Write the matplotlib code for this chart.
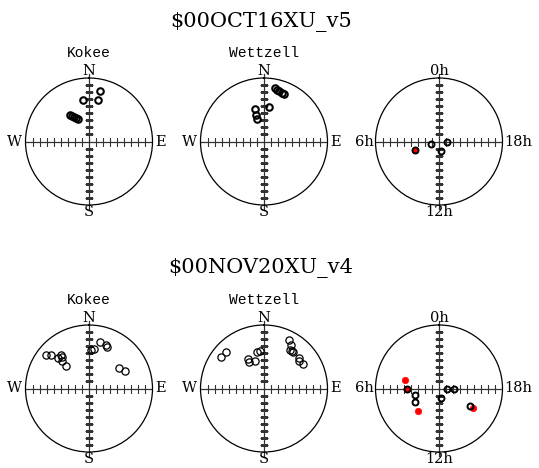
import numpy as np
import matplotlib
matplotlib.use("Agg")
import matplotlib.pyplot as plt

# ---- session 1: $00OCT16XU_v5 ----
s1_kokee_az = [11.9, 12.3, 351.4, 324.5, 326.5, 328.7, 331.2, 334.1]
s1_kokee_el = [16.5, 30.0, 30.0, 43.5, 46.2, 49.0, 51.6, 54.2]
s1_wett_az = [11.7, 14.5, 16.9, 19.9, 22.6, 8.7, 345.1, 342.2, 343.6]
s1_wett_el = [13.0, 14.2, 15.2, 16.4, 17.2, 40.2, 42.0, 51.2, 56.4]
s1_ha_open = [7.09, 18.0, 12.8, 7.21]
s1_rad_open = [11.9, 11.3, 13.6, 36.4]
s1_ha_red = [7.21]
s1_rad_red = [36.4]

# ---- session 2: $00NOV20XU_v4 ----
s2_kokee_az = [307.7, 311.5, 314.4, 319.6, 319.6, 315.0, 314.6, 2.5, 7.3,
               12.9, 21.6, 23.1, 56.2, 63.9]
s2_kokee_el = [13.4, 17.9, 28.4, 27.8, 31.5, 35.7, 44.1, 35.9, 34.1,
               22.0, 23.2, 26.1, 38.1, 33.0]
s2_wett_az = [306.1, 313.5, 331.9, 329.8, 342.6, 349.6, 354.5, 27.2, 31.9,
              33.9, 36.9, 38.9, 48.8, 51.7, 57.5]
s2_wett_el = [14.8, 15.4, 43.0, 46.9, 49.0, 37.8, 36.0, 12.7, 17.8,
              24.1, 23.4, 24.0, 24.9, 27.6, 25.2]
s2_ha_open = [6.12, 7.03, 7.95, 12.78, 17.84, 17.91, 16.07]
s2_rad_open = [45.0, 35.4, 39.7, 14.0, 11.4, 20.9, 49.9]
s2_ha_red = [5.05, 6.12, 9.09, 15.99]
s2_rad_red = [50.3, 45.0, 43.2, 56.4]

session_titles = ["\\$00OCT16XU_v5", "\\$00NOV20XU_v4"]
station_names = ["Kokee", "Wettzell"]
compass = ["N", "E", "S", "W"]          # top, right, bottom, left
hour_labels = ["0h", "18h", "12h", "6h"]  # top, right, bottom, left

W, H = 539, 468
fig = plt.figure(figsize=(W / 100, H / 100), dpi=100)
fig.patch.set_facecolor("white")

R = 63.5
col_x = [89, 264, 439]
row_y = [141.5, 388.5]
serif = "DejaVu Serif"
mono = "Liberation Mono"


def make_ax(cx, cy, clockwise):
    ax = fig.add_axes([(cx - R) / W, (H - cy - R) / H, 2 * R / W, 2 * R / H],
                      projection="polar")
    ax.set_theta_zero_location("N")
    ax.set_theta_direction(-1 if clockwise else 1)
    ax.set_rlim(0, 90)
    ax.grid(False)
    ax.set_xticks([])
    ax.set_yticks([])
    ax.spines["polar"].set_linewidth(0.9)
    ax.spines["polar"].set_color("black")
    ax.set_facecolor("none")
    lc = "#333333"
    # cross through the centre
    ax.plot([0, 0], [0, 95], color=lc, lw=0.9, clip_on=False)
    ax.plot([np.pi, np.pi], [0, 95], color=lc, lw=0.9, clip_on=False)
    ax.plot([np.pi / 2, np.pi / 2], [0, 90], color=lc, lw=0.9)
    ax.plot([3 * np.pi / 2, 3 * np.pi / 2], [0, 90], color=lc, lw=0.9)
    ticks = np.arange(10, 90, 10)
    for th in (0, np.pi):
        ax.plot(np.full_like(ticks, th, dtype=float), ticks, ls="none",
                marker="_", ms=6, mew=0.8, color=lc)
    for th in (np.pi / 2, 3 * np.pi / 2):
        ax.plot(np.full_like(ticks, th, dtype=float), ticks, ls="none",
                marker="|", ms=6, mew=0.8, color=lc)
    return ax


def label_ring(ax, labels):
    top, right, bottom, left = labels
    kw = dict(transform=ax.transAxes, family=serif, fontsize=10.5,
              color="black", ha="center", va="center")
    off = 0.055
    ax.text(0.5, 1 + off, top, **kw)
    ax.text(0.5, -off, bottom, **kw)
    if len(left) > 1:
        ax.text(-0.01, 0.5, left, **dict(kw, ha="right"))
        ax.text(1.01, 0.5, right, **dict(kw, ha="left"))
    else:
        ax.text(-0.085, 0.5, left, **kw)
        ax.text(1.065, 0.5, right, **kw)


sessions = [
    (s1_kokee_az, s1_kokee_el, s1_wett_az, s1_wett_el,
     s1_ha_open, s1_rad_open, s1_ha_red, s1_rad_red, 1.5, 4.7),
    (s2_kokee_az, s2_kokee_el, s2_wett_az, s2_wett_el,
     s2_ha_open, s2_rad_open, s2_ha_red, s2_rad_red, 0.9, 5.2),
]

for row, sess in enumerate(sessions):
    (k_az, k_el, w_az, w_el, h_open, r_open, h_red, r_red, mew, ms) = sess
    cy = row_y[row]
    fig.text(261 / W, 1 - (cy - 120) / H, session_titles[row], family=serif,
             fontsize=15, ha="center", va="center")
    for i, (az, el) in enumerate([(k_az, k_el), (w_az, w_el)]):
        ax = make_ax(col_x[i], cy, True)
        label_ring(ax, compass)
        ax.text(0.5, 1.195, station_names[i], transform=ax.transAxes,
                family=mono, fontsize=10.5, ha="center", va="center")
        ax.plot(np.radians(az), 90 - np.asarray(el), ls="none", marker="o",
                ms=ms, mfc="none", mec="black", mew=mew)
    ax = make_ax(col_x[2], cy, False)
    label_ring(ax, hour_labels)
    ax.plot(np.radians(np.asarray(h_red) * 15), r_red, ls="none", marker="o",
            ms=4.6, mfc="red", mec="red", mew=0.5)
    ax.plot(np.radians(np.asarray(h_open) * 15), r_open, ls="none",
            marker="o", ms=4.3, mfc="none", mec="black", mew=1.4)

fig.savefig("out.png", dpi=100, facecolor="white")
